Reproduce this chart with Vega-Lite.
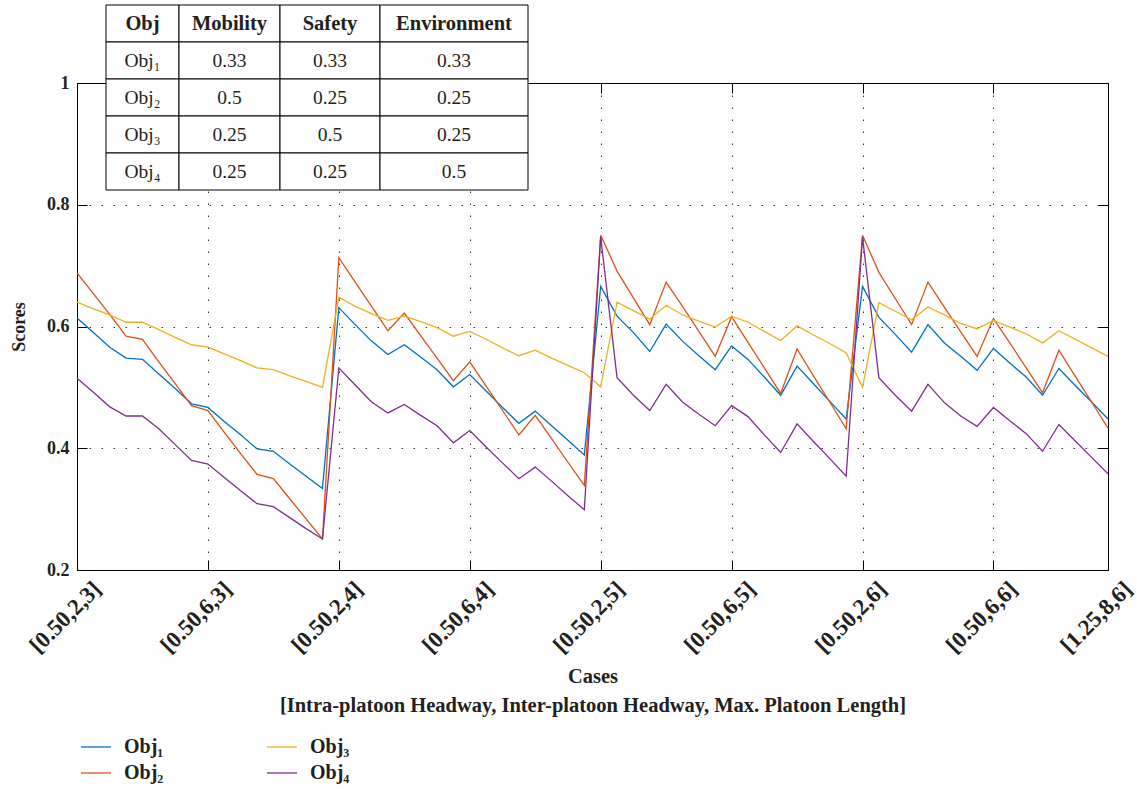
{
  "$schema": "https://vega.github.io/schema/vega-lite/v6.json",
  "width": 1031,
  "height": 487,
  "autosize": {"type": "none"},
  "padding": {"left": 77, "top": 83, "right": 29, "bottom": 219},
  "background": "white",
  "config": {"view": {"stroke": "black", "strokeWidth": 1}, "font": "Liberation Serif"},
  "datasets": {
    "scores": [
      {"case": "[0.50,2,3]", "Obj₁": 0.614, "Obj₂": 0.688, "Obj₃": 0.640, "Obj₄": 0.515},
      {"case": "[0.75,2,3]", "Obj₁": 0.590, "Obj₂": 0.654, "Obj₃": 0.629, "Obj₄": 0.492},
      {"case": "[1.00,2,3]", "Obj₁": 0.566, "Obj₂": 0.620, "Obj₃": 0.619, "Obj₄": 0.468},
      {"case": "[1.25,2,3]", "Obj₁": 0.548, "Obj₂": 0.584, "Obj₃": 0.607, "Obj₄": 0.453},
      {"case": "[0.50,4,3]", "Obj₁": 0.546, "Obj₂": 0.579, "Obj₃": 0.607, "Obj₄": 0.453},
      {"case": "[0.75,4,3]", "Obj₁": 0.522, "Obj₂": 0.542, "Obj₃": 0.595, "Obj₄": 0.432},
      {"case": "[1.00,4,3]", "Obj₁": 0.498, "Obj₂": 0.506, "Obj₃": 0.582, "Obj₄": 0.406},
      {"case": "[1.25,4,3]", "Obj₁": 0.473, "Obj₂": 0.470, "Obj₃": 0.570, "Obj₄": 0.380},
      {"case": "[0.50,6,3]", "Obj₁": 0.467, "Obj₂": 0.462, "Obj₃": 0.566, "Obj₄": 0.374},
      {"case": "[0.75,6,3]", "Obj₁": 0.444, "Obj₂": 0.426, "Obj₃": 0.555, "Obj₄": 0.352},
      {"case": "[1.00,6,3]", "Obj₁": 0.422, "Obj₂": 0.391, "Obj₃": 0.544, "Obj₄": 0.330},
      {"case": "[1.25,6,3]", "Obj₁": 0.399, "Obj₂": 0.357, "Obj₃": 0.532, "Obj₄": 0.309},
      {"case": "[0.50,8,3]", "Obj₁": 0.395, "Obj₂": 0.350, "Obj₃": 0.529, "Obj₄": 0.304},
      {"case": "[0.75,8,3]", "Obj₁": 0.374, "Obj₂": 0.317, "Obj₃": 0.519, "Obj₄": 0.286},
      {"case": "[1.00,8,3]", "Obj₁": 0.354, "Obj₂": 0.284, "Obj₃": 0.510, "Obj₄": 0.268},
      {"case": "[1.25,8,3]", "Obj₁": 0.334, "Obj₂": 0.251, "Obj₃": 0.500, "Obj₄": 0.251},
      {"case": "[0.50,2,4]", "Obj₁": 0.631, "Obj₂": 0.713, "Obj₃": 0.648, "Obj₄": 0.532},
      {"case": "[0.75,2,4]", "Obj₁": 0.603, "Obj₂": 0.673, "Obj₃": 0.633, "Obj₄": 0.504},
      {"case": "[1.00,2,4]", "Obj₁": 0.576, "Obj₂": 0.633, "Obj₃": 0.621, "Obj₄": 0.476},
      {"case": "[1.25,2,4]", "Obj₁": 0.554, "Obj₂": 0.593, "Obj₃": 0.610, "Obj₄": 0.458},
      {"case": "[0.50,4,4]", "Obj₁": 0.570, "Obj₂": 0.622, "Obj₃": 0.617, "Obj₄": 0.472},
      {"case": "[0.75,4,4]", "Obj₁": 0.550, "Obj₂": 0.585, "Obj₃": 0.608, "Obj₄": 0.454},
      {"case": "[1.00,4,4]", "Obj₁": 0.529, "Obj₂": 0.548, "Obj₃": 0.598, "Obj₄": 0.437},
      {"case": "[1.25,4,4]", "Obj₁": 0.501, "Obj₂": 0.511, "Obj₃": 0.584, "Obj₄": 0.409},
      {"case": "[0.50,6,4]", "Obj₁": 0.521, "Obj₂": 0.542, "Obj₃": 0.592, "Obj₄": 0.429},
      {"case": "[0.75,6,4]", "Obj₁": 0.494, "Obj₂": 0.502, "Obj₃": 0.579, "Obj₄": 0.402},
      {"case": "[1.00,6,4]", "Obj₁": 0.467, "Obj₂": 0.462, "Obj₃": 0.565, "Obj₄": 0.376},
      {"case": "[1.25,6,4]", "Obj₁": 0.441, "Obj₂": 0.422, "Obj₃": 0.552, "Obj₄": 0.350},
      {"case": "[0.50,8,4]", "Obj₁": 0.461, "Obj₂": 0.454, "Obj₃": 0.561, "Obj₄": 0.369},
      {"case": "[0.75,8,4]", "Obj₁": 0.437, "Obj₂": 0.416, "Obj₃": 0.548, "Obj₄": 0.346},
      {"case": "[1.00,8,4]", "Obj₁": 0.413, "Obj₂": 0.377, "Obj₃": 0.536, "Obj₄": 0.322},
      {"case": "[1.25,8,4]", "Obj₁": 0.389, "Obj₂": 0.339, "Obj₃": 0.524, "Obj₄": 0.299},
      {"case": "[0.50,2,5]", "Obj₁": 0.666, "Obj₂": 0.750, "Obj₃": 0.501, "Obj₄": 0.747},
      {"case": "[0.75,2,5]", "Obj₁": 0.617, "Obj₂": 0.691, "Obj₃": 0.640, "Obj₄": 0.516},
      {"case": "[1.00,2,5]", "Obj₁": 0.590, "Obj₂": 0.647, "Obj₃": 0.626, "Obj₄": 0.487},
      {"case": "[1.25,2,5]", "Obj₁": 0.559, "Obj₂": 0.603, "Obj₃": 0.612, "Obj₄": 0.462},
      {"case": "[0.50,4,5]", "Obj₁": 0.604, "Obj₂": 0.673, "Obj₃": 0.635, "Obj₄": 0.505},
      {"case": "[0.75,4,5]", "Obj₁": 0.576, "Obj₂": 0.633, "Obj₃": 0.619, "Obj₄": 0.476},
      {"case": "[1.00,4,5]", "Obj₁": 0.552, "Obj₂": 0.592, "Obj₃": 0.609, "Obj₄": 0.456},
      {"case": "[1.25,4,5]", "Obj₁": 0.529, "Obj₂": 0.551, "Obj₃": 0.599, "Obj₄": 0.437},
      {"case": "[0.50,6,5]", "Obj₁": 0.568, "Obj₂": 0.616, "Obj₃": 0.617, "Obj₄": 0.470},
      {"case": "[0.75,6,5]", "Obj₁": 0.546, "Obj₂": 0.574, "Obj₃": 0.607, "Obj₄": 0.452},
      {"case": "[1.00,6,5]", "Obj₁": 0.517, "Obj₂": 0.532, "Obj₃": 0.592, "Obj₄": 0.422},
      {"case": "[1.25,6,5]", "Obj₁": 0.487, "Obj₂": 0.490, "Obj₃": 0.577, "Obj₄": 0.393},
      {"case": "[0.50,8,5]", "Obj₁": 0.535, "Obj₂": 0.563, "Obj₃": 0.601, "Obj₄": 0.440},
      {"case": "[0.75,8,5]", "Obj₁": 0.506, "Obj₂": 0.519, "Obj₃": 0.586, "Obj₄": 0.411},
      {"case": "[1.00,8,5]", "Obj₁": 0.477, "Obj₂": 0.476, "Obj₃": 0.572, "Obj₄": 0.383},
      {"case": "[1.25,8,5]", "Obj₁": 0.448, "Obj₂": 0.432, "Obj₃": 0.557, "Obj₄": 0.354},
      {"case": "[0.50,2,6]", "Obj₁": 0.666, "Obj₂": 0.750, "Obj₃": 0.500, "Obj₄": 0.747},
      {"case": "[0.75,2,6]", "Obj₁": 0.615, "Obj₂": 0.689, "Obj₃": 0.639, "Obj₄": 0.516},
      {"case": "[1.00,2,6]", "Obj₁": 0.587, "Obj₂": 0.646, "Obj₃": 0.625, "Obj₄": 0.487},
      {"case": "[1.25,2,6]", "Obj₁": 0.558, "Obj₂": 0.603, "Obj₃": 0.611, "Obj₄": 0.461},
      {"case": "[0.50,4,6]", "Obj₁": 0.603, "Obj₂": 0.673, "Obj₃": 0.632, "Obj₄": 0.505},
      {"case": "[0.75,4,6]", "Obj₁": 0.573, "Obj₂": 0.632, "Obj₃": 0.619, "Obj₄": 0.475},
      {"case": "[1.00,4,6]", "Obj₁": 0.551, "Obj₂": 0.591, "Obj₃": 0.605, "Obj₄": 0.453},
      {"case": "[1.25,4,6]", "Obj₁": 0.528, "Obj₂": 0.551, "Obj₃": 0.596, "Obj₄": 0.436},
      {"case": "[0.50,6,6]", "Obj₁": 0.564, "Obj₂": 0.613, "Obj₃": 0.610, "Obj₄": 0.467},
      {"case": "[0.75,6,6]", "Obj₁": 0.540, "Obj₂": 0.573, "Obj₃": 0.599, "Obj₄": 0.445},
      {"case": "[1.00,6,6]", "Obj₁": 0.517, "Obj₂": 0.532, "Obj₃": 0.588, "Obj₄": 0.424},
      {"case": "[1.25,6,6]", "Obj₁": 0.487, "Obj₂": 0.491, "Obj₃": 0.573, "Obj₄": 0.395},
      {"case": "[0.50,8,6]", "Obj₁": 0.531, "Obj₂": 0.561, "Obj₃": 0.593, "Obj₄": 0.439},
      {"case": "[0.75,8,6]", "Obj₁": 0.503, "Obj₂": 0.518, "Obj₃": 0.579, "Obj₄": 0.412},
      {"case": "[1.00,8,6]", "Obj₁": 0.476, "Obj₂": 0.476, "Obj₃": 0.565, "Obj₄": 0.385},
      {"case": "[1.25,8,6]", "Obj₁": 0.448, "Obj₂": 0.433, "Obj₃": 0.551, "Obj₄": 0.358}
    ],
    "table": [
      {"row": "Header", "column": "Obj", "text": "Obj"},
      {"row": "Header", "column": "Mobility", "text": "Mobility"},
      {"row": "Header", "column": "Safety", "text": "Safety"},
      {"row": "Header", "column": "Environment", "text": "Environment"},
      {"row": "Obj₁", "column": "Obj", "text": "Obj₁"},
      {"row": "Obj₁", "column": "Mobility", "text": "0.33"},
      {"row": "Obj₁", "column": "Safety", "text": "0.33"},
      {"row": "Obj₁", "column": "Environment", "text": "0.33"},
      {"row": "Obj₂", "column": "Obj", "text": "Obj₂"},
      {"row": "Obj₂", "column": "Mobility", "text": "0.5"},
      {"row": "Obj₂", "column": "Safety", "text": "0.25"},
      {"row": "Obj₂", "column": "Environment", "text": "0.25"},
      {"row": "Obj₃", "column": "Obj", "text": "Obj₃"},
      {"row": "Obj₃", "column": "Mobility", "text": "0.25"},
      {"row": "Obj₃", "column": "Safety", "text": "0.5"},
      {"row": "Obj₃", "column": "Environment", "text": "0.25"},
      {"row": "Obj₄", "column": "Obj", "text": "Obj₄"},
      {"row": "Obj₄", "column": "Mobility", "text": "0.25"},
      {"row": "Obj₄", "column": "Safety", "text": "0.25"},
      {"row": "Obj₄", "column": "Environment", "text": "0.5"}
    ]
  },
  "layer": [
    {
      "data": {"name": "scores"},
      "transform": [{"fold": ["Obj₁", "Obj₂", "Obj₃", "Obj₄"], "as": ["series", "score"]}],
      "layer": [
        {
          "mark": {"type": "line", "strokeWidth": 1.3},
          "encoding": {
            "x": {
              "field": "case", "type": "ordinal", "sort": null,
              "scale": {"type": "point", "padding": 0},
              "axis": {
                "orient": "bottom",
                "values": ["[0.50,2,3]", "[0.50,6,3]", "[0.50,2,4]", "[0.50,6,4]", "[0.50,2,5]", "[0.50,6,5]", "[0.50,2,6]", "[0.50,6,6]", "[1.25,8,6]"],
                "title": ["Cases", "[Intra-platoon Headway, Inter-platoon Headway, Max. Platoon Length]"],
                "grid": true, "gridDash": [1.5, 10.5], "gridColor": "#333", "gridWidth": 1,
                "domain": true, "domainColor": "black", "domainWidth": 1,
                "ticks": true, "tickSize": -10, "tickColor": "black", "tickWidth": 1,
                "labelAngle": -45, "labelAlign": "center", "labelBaseline": "middle",
                "labelPadding": 57, "labelOffset": -12, "labelOverlap": false,
                "labelFont": "Liberation Serif", "labelFontWeight": "bold", "labelFontSize": 23, "labelColor": "#231f20",
                "titleFont": "Liberation Serif", "titleFontWeight": "bold", "titleFontSize": 20.5, "titleColor": "#231f20",
                "titlePadding": 9, "titleLineHeight": 29
              }
            },
            "y": {
              "field": "score", "type": "quantitative",
              "scale": {"domain": [0.2, 1]},
              "axis": {
                "orient": "left",
                "values": [0.2, 0.4, 0.6, 0.8, 1], "format": "~g",
                "title": "Scores",
                "grid": true, "gridDash": [1.5, 10.5], "gridColor": "#333", "gridWidth": 1,
                "domain": true, "domainColor": "black", "domainWidth": 1,
                "ticks": true, "tickSize": -10, "tickColor": "black", "tickWidth": 1,
                "labelPadding": 18,
                "labelFont": "Liberation Serif", "labelFontWeight": "bold", "labelFontSize": 18, "labelColor": "#231f20",
                "titleFont": "Liberation Serif", "titleFontWeight": "bold", "titleFontSize": 18, "titleColor": "#231f20",
                "titlePadding": 18
              }
            },
            "color": {
              "field": "series", "type": "nominal",
              "scale": {"domain": ["Obj₁", "Obj₂", "Obj₃", "Obj₄"], "range": ["#0072BD", "#D95319", "#EDB120", "#7E2F8E"]},
              "legend": {
                "orient": "none", "legendX": 3, "legendY": 648,
                "columns": 2, "direction": "vertical", "title": null,
                "symbolType": "stroke", "symbolSize": 900, "symbolStrokeWidth": 1.3,
                "labelFont": "Liberation Serif", "labelFontWeight": "bold", "labelFontSize": 20, "labelColor": "#231f20",
                "labelOffset": 12, "columnPadding": 100, "rowPadding": -2
              }
            }
          }
        },
        {
          "mark": {"type": "line", "strokeOpacity": 0},
          "encoding": {
            "x": {
              "field": "case", "type": "ordinal", "sort": null,
              "scale": {"type": "point", "padding": 0},
              "axis": {
                "orient": "top",
                "values": ["[0.50,2,3]", "[0.50,6,3]", "[0.50,2,4]", "[0.50,6,4]", "[0.50,2,5]", "[0.50,6,5]", "[0.50,2,6]", "[0.50,6,6]", "[1.25,8,6]"],
                "title": null, "labels": false, "grid": false,
                "domain": true, "domainColor": "black", "domainWidth": 1,
                "ticks": true, "tickSize": -10, "tickColor": "black", "tickWidth": 1
              }
            },
            "y": {
              "field": "score", "type": "quantitative",
              "scale": {"domain": [0.2, 1]},
              "axis": {
                "orient": "right",
                "values": [0.2, 0.4, 0.6, 0.8, 1],
                "title": null, "labels": false, "grid": false,
                "domain": true, "domainColor": "black", "domainWidth": 1,
                "ticks": true, "tickSize": -10, "tickColor": "black", "tickWidth": 1
              }
            },
            "detail": {"field": "series"}
          }
        }
      ],
      "resolve": {"axis": {"x": "independent", "y": "independent"}}
    },
    {
      "data": {"name": "table"},
      "encoding": {
        "y": {
          "field": "row", "type": "nominal",
          "scale": {"type": "band", "domain": ["Header", "Obj₁", "Obj₂", "Obj₃", "Obj₄"], "range": [-78, 107], "paddingInner": 0, "paddingOuter": 0},
          "axis": null
        }
      },
      "layer": [
        {
          "transform": [{"filter": "datum.column === 'Obj'"}],
          "encoding": {"x": {"field": "column", "type": "nominal", "scale": {"type": "band", "domain": ["Obj"], "range": [29, 102], "paddingInner": 0, "paddingOuter": 0}, "axis": null}},
          "layer": [
            {"mark": {"type": "rect", "fill": "white", "stroke": "black", "strokeWidth": 1}},
            {"transform": [{"filter": "datum.row === 'Header'"}], "mark": {"type": "text", "font": "Liberation Serif", "fontSize": 20.5, "fontWeight": "bold", "color": "#231f20"}, "encoding": {"text": {"field": "text"}}},
            {"transform": [{"filter": "datum.row !== 'Header'"}], "mark": {"type": "text", "font": "Liberation Serif", "fontSize": 19.5, "color": "#231f20"}, "encoding": {"text": {"field": "text"}}}
          ]
        },
        {
          "transform": [{"filter": "datum.column === 'Mobility'"}],
          "encoding": {"x": {"field": "column", "type": "nominal", "scale": {"type": "band", "domain": ["Mobility"], "range": [102, 203], "paddingInner": 0, "paddingOuter": 0}, "axis": null}},
          "layer": [
            {"mark": {"type": "rect", "fill": "white", "stroke": "black", "strokeWidth": 1}},
            {"transform": [{"filter": "datum.row === 'Header'"}], "mark": {"type": "text", "font": "Liberation Serif", "fontSize": 20.5, "fontWeight": "bold", "color": "#231f20"}, "encoding": {"text": {"field": "text"}}},
            {"transform": [{"filter": "datum.row !== 'Header'"}], "mark": {"type": "text", "font": "Liberation Serif", "fontSize": 19.5, "color": "#231f20"}, "encoding": {"text": {"field": "text"}}}
          ]
        },
        {
          "transform": [{"filter": "datum.column === 'Safety'"}],
          "encoding": {"x": {"field": "column", "type": "nominal", "scale": {"type": "band", "domain": ["Safety"], "range": [203, 303], "paddingInner": 0, "paddingOuter": 0}, "axis": null}},
          "layer": [
            {"mark": {"type": "rect", "fill": "white", "stroke": "black", "strokeWidth": 1}},
            {"transform": [{"filter": "datum.row === 'Header'"}], "mark": {"type": "text", "font": "Liberation Serif", "fontSize": 20.5, "fontWeight": "bold", "color": "#231f20"}, "encoding": {"text": {"field": "text"}}},
            {"transform": [{"filter": "datum.row !== 'Header'"}], "mark": {"type": "text", "font": "Liberation Serif", "fontSize": 19.5, "color": "#231f20"}, "encoding": {"text": {"field": "text"}}}
          ]
        },
        {
          "transform": [{"filter": "datum.column === 'Environment'"}],
          "encoding": {"x": {"field": "column", "type": "nominal", "scale": {"type": "band", "domain": ["Environment"], "range": [303, 451], "paddingInner": 0, "paddingOuter": 0}, "axis": null}},
          "layer": [
            {"mark": {"type": "rect", "fill": "white", "stroke": "black", "strokeWidth": 1}},
            {"transform": [{"filter": "datum.row === 'Header'"}], "mark": {"type": "text", "font": "Liberation Serif", "fontSize": 20.5, "fontWeight": "bold", "color": "#231f20"}, "encoding": {"text": {"field": "text"}}},
            {"transform": [{"filter": "datum.row !== 'Header'"}], "mark": {"type": "text", "font": "Liberation Serif", "fontSize": 19.5, "color": "#231f20"}, "encoding": {"text": {"field": "text"}}}
          ]
        }
      ],
      "resolve": {"scale": {"x": "independent"}}
    }
  ],
  "resolve": {"scale": {"x": "independent", "y": "independent"}, "axis": {"x": "independent", "y": "independent"}}
}
